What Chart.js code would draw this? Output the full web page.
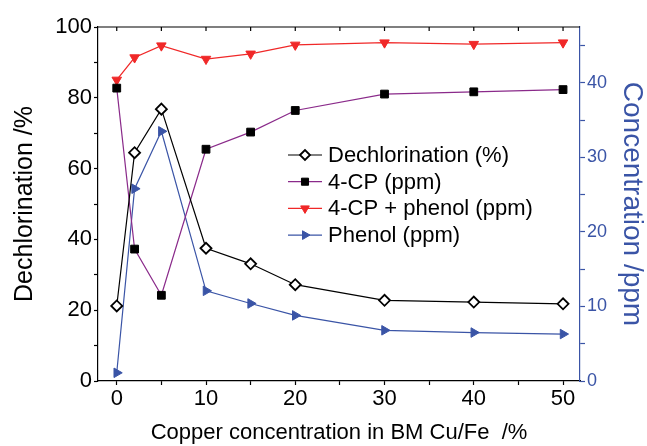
<!DOCTYPE html>
<html>
<head>
<meta charset="utf-8">
<script src="https://cdn.jsdelivr.net/npm/chart.js@4.4.0/dist/chart.umd.min.js"></script>
<style>
  body { margin: 0; background: #fff; }
  #wrap { width: 647px; height: 446px; }
</style>
</head>
<body>
<div id="wrap"><canvas id="myChart" width="647" height="446"></canvas></div>
<script>
// copper content of the BM Cu/Fe (%)
var copper = [0, 2, 5, 10, 15, 20, 30, 40, 50];
// left axis (%)
var dechlorination = [21.2, 64.5, 76.8, 37.5, 33.1, 27.2, 22.8, 22.3, 21.8];
// right axis (ppm)
var cp4 = [39.3, 17.7, 11.5, 31.1, 33.4, 36.3, 38.5, 38.8, 39.1];
var cp4Phenol = [40.4, 43.4, 45.0, 43.2, 43.9, 45.1, 45.4, 45.2, 45.4];
var phenol = [1.1, 25.8, 33.5, 12.1, 10.4, 8.8, 6.8, 6.5, 6.3];

var xLabels = [0, 10, 20, 30, 40, 50];
var leftLabels = [0, 20, 40, 60, 80, 100];
var rightLabels = [0, 10, 20, 30, 40];

var blue = '#3a54a6';
var fontFam = '"Liberation Sans", Arial, sans-serif';
Chart.defaults.font.family = fontFam;

function pts(arr) {
  return copper.map(function(c, i) { return {x: c, y: arr[i]}; });
}

// legend drawn inside the plot, line + marker like the original
var boxLegend = {
  id: 'boxLegend',
  afterDraw: function(chart) {
    var ctx = chart.ctx;
    var x0 = 288, x1 = 322, tx = 328, y0 = 155, gap = 26.7;
    chart.data.datasets.forEach(function(ds, i) {
      var yy = y0 + i * gap;
      ctx.save();
      ctx.strokeStyle = ds.borderColor;
      ctx.lineWidth = ds.borderWidth;
      ctx.beginPath();
      ctx.moveTo(x0, yy);
      ctx.lineTo(x1, yy);
      ctx.stroke();
      ctx.fillStyle = ds.pointBackgroundColor;
      ctx.strokeStyle = ds.pointBorderColor;
      ctx.lineWidth = ds.pointBorderWidth;
      Chart.helpers.drawPoint(ctx, {
        pointStyle: ds.pointStyle,
        rotation: ds.pointRotation || 0,
        radius: ds.pointRadius - 0.5,
        borderWidth: ds.pointBorderWidth
      }, (x0 + x1) / 2, yy);
      ctx.fillStyle = '#000';
      ctx.font = '22px ' + fontFam;
      ctx.textBaseline = 'middle';
      ctx.textAlign = 'left';
      ctx.fillText(ds.label, tx, yy + 1);
      ctx.restore();
    });
  }
};

// top frame line with small inward ticks
var topFrame = {
  id: 'topFrame',
  afterDraw: function(chart) {
    var ctx = chart.ctx, a = chart.chartArea, xs = chart.scales.x;
    ctx.save();
    ctx.strokeStyle = '#000';
    ctx.lineWidth = 1.2;
    ctx.beginPath();
    ctx.moveTo(a.left, a.top);
    ctx.lineTo(a.right, a.top);
    xs.ticks.forEach(function(t) {
      var px = xs.getPixelForValue(t.value);
      ctx.moveTo(px, a.top);
      ctx.lineTo(px, a.top + 4);
    });
    ctx.stroke();
    ctx.restore();
  }
};

var ctx = document.getElementById('myChart').getContext('2d');
var myChart = new Chart(ctx, {
  type: 'line',
  data: {
    datasets: [{
      label: 'Dechlorination (%)',
      data: pts(dechlorination),
      yAxisID: 'yL',
      borderColor: '#000',
      borderWidth: 1.2,
      pointStyle: 'rectRot',
      pointRadius: 5.5,
      pointBackgroundColor: '#fff',
      pointBorderColor: '#000',
      pointBorderWidth: 1.8
    }, {
      label: '4-CP (ppm)',
      data: pts(cp4),
      yAxisID: 'yR',
      borderColor: '#8a2a8a',
      borderWidth: 1.2,
      pointStyle: 'rect',
      pointRadius: 5.5,
      pointBackgroundColor: '#000',
      pointBorderColor: '#000',
      pointBorderWidth: 1
    }, {
      label: '4-CP + phenol (ppm)',
      data: pts(cp4Phenol),
      yAxisID: 'yR',
      borderColor: '#f02828',
      borderWidth: 1.2,
      pointStyle: 'triangle',
      pointRotation: 180,
      pointRadius: 5.5,
      pointBackgroundColor: '#f02828',
      pointBorderColor: '#f02828',
      pointBorderWidth: 1
    }, {
      label: 'Phenol (ppm)',
      data: pts(phenol),
      yAxisID: 'yR',
      borderColor: blue,
      borderWidth: 1.2,
      pointStyle: 'triangle',
      pointRotation: 90,
      pointRadius: 5.5,
      pointBackgroundColor: blue,
      pointBorderColor: blue,
      pointBorderWidth: 1
    }]
  },
  options: {
    responsive: false,
    animation: false,
    layout: { padding: { top: 27, left: 0, right: 0, bottom: 0 } },
    plugins: {
      legend: { display: false },
      tooltip: { enabled: false }
    },
    elements: { line: { tension: 0, fill: false } },
    scales: {
      x: {
        type: 'linear',
        min: -2.1,
        max: 51.9,
        afterFit: function(s) { s.height = 65; },
        grid: { drawOnChartArea: false, drawTicks: true, tickLength: 4, tickColor: '#000', tickWidth: 1.2 },
        border: { color: '#000', width: 1.2 },
        ticks: {
          stepSize: 5,
          includeBounds: false,
          autoSkip: false,
          maxRotation: 0,
          padding: 1,
          color: '#000',
          font: { size: 22 },
          callback: function(v) { return xLabels.indexOf(v) >= 0 ? String(v) : ''; }
        },
        title: {
          display: true,
          text: 'Copper concentration in BM Cu/Fe  /%',
          color: '#000',
          font: { size: 22 },
          padding: { top: 0, bottom: 0 }
        }
      },
      yL: {
        type: 'linear',
        position: 'left',
        min: 0,
        max: 100,
        afterFit: function(s) { s.width = 98; },
        grid: { drawOnChartArea: false, drawTicks: true, tickLength: 4, tickColor: '#000', tickWidth: 1.2 },
        border: { color: '#000', width: 1.2 },
        ticks: {
          stepSize: 10,
          includeBounds: false,
          autoSkip: false,
          padding: 2,
          color: '#000',
          font: { size: 22 },
          callback: function(v) { return leftLabels.indexOf(v) >= 0 ? String(v) : ''; }
        },
        title: {
          display: true,
          text: 'Dechlorination /%',
          color: '#000',
          font: { size: 25 },
          padding: { top: 10, bottom: 0 }
        }
      },
      yR: {
        type: 'linear',
        position: 'right',
        min: 0,
        max: 47.5,
        afterFit: function(s) { s.width = 67; },
        grid: { drawOnChartArea: false, drawTicks: true, tickLength: 5, tickColor: blue, tickWidth: 1.2 },
        border: { color: blue, width: 1.2 },
        ticks: {
          stepSize: 5,
          includeBounds: false,
          autoSkip: false,
          padding: 2,
          color: blue,
          font: { size: 18 },
          callback: function(v) { return rightLabels.indexOf(v) >= 0 ? String(v) : ''; }
        },
        title: {
          display: true,
          text: 'Concentration /ppm',
          color: blue,
          font: { size: 28, lineHeight: 1.1 },
          padding: { top: 0, bottom: 0 }
        }
      }
    }
  },
  plugins: [topFrame, boxLegend]
});
</script>
</body>
</html>
